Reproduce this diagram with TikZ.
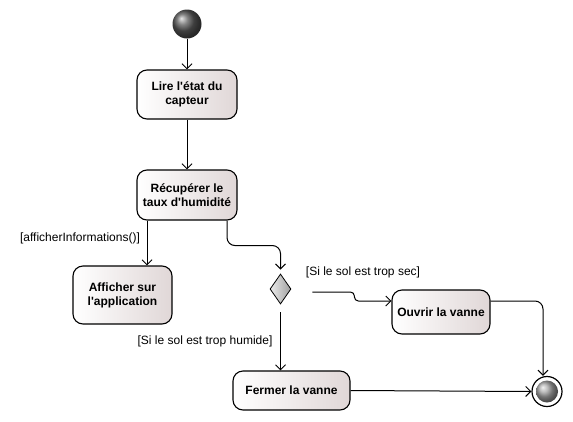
\documentclass[tikz,border=0pt]{standalone}
\usepackage{fontspec}
\setmainfont{Liberation Sans}
\usetikzlibrary{shapes.geometric,arrows.meta}
\tikzset{
  action/.style={draw,line width=1.1pt,rounded corners=10pt,inner sep=2pt,align=center,
    font=\fontsize{12}{14}\selectfont\bfseries,left color=white,right color=boxgray},
  flow/.style={line width=1pt,-{Straight Barb[length=5pt,width=10pt]}},
  guard/.style={font=\fontsize{12}{14}\selectfont,inner sep=0pt}
}
\definecolor{boxgray}{HTML}{E0D7D7}
\begin{document}
\begin{tikzpicture}[x=1pt,y=-1pt]
 \useasboundingbox (0,0) rectangle (573,421);
 % noeuds
 \node[circle,minimum size=29pt,inner sep=0pt,ball color=black!65] (debut) at (187,24) {};
 \node[action,minimum width=100pt,minimum height=49pt] (lire) at (187,94.5) {Lire l\textquotesingle état du\\capteur};
 \node[action,minimum width=100pt,minimum height=50pt] (recup) at (187,195) {Récupérer le\\taux d\textquotesingle humidité};
 \node[action,minimum width=99pt,minimum height=58pt] (afficher) at (122.5,295) {Afficher sur\\l\textquotesingle application};
 \node[diamond,draw,line width=0.8pt,inner sep=0pt,minimum width=21pt,minimum height=30pt,
   left color=gray!15,right color=gray!75] (choix) at (280.5,289) {};
 \node[action,minimum width=98pt,minimum height=44pt] (ouvrir) at (441,312) {Ouvrir la vanne};
 \node[action,minimum width=117pt,minimum height=39pt] (fermer) at (291.5,390.5) {Fermer la vanne};
 \node[circle,draw,line width=1.2pt,fill=white,minimum size=30pt,inner sep=0pt] (fin) at (547,391.5) {};
 \node[circle,minimum size=22pt,inner sep=0pt,ball color=gray!70] at (fin) {};
 % gardes
 \node[guard] (gaff) at (80,238) {[afficherInformations()]};
 \node[guard] (gsec) at (363,272) {[Si le sol est trop sec]};
 \node[guard] (ghum) at (205,341) {[Si le sol est trop humide]};
 % transitions
 \draw[flow] (debut) -- (lire);
 \draw[flow] (lire) -- (recup);
 \draw[flow] ([xshift=-40pt]recup.south) -- ([xshift=-40pt]recup.south |- afficher.north);
 \draw[flow,rounded corners=8pt,shorten >=4pt] ([xshift=40pt]recup.south) -- ++(0,25) -| (choix.north);
 \coordinate (sortie) at ([xshift=21pt,yshift=-3pt]choix.east);
 \draw[flow,rounded corners=4pt] (sortie) -- ++(42,0) |- ([yshift=11pt]ouvrir.west);
 \draw[flow] ([yshift=-8pt]choix.south) -- (fermer.north -| choix);
 \draw[flow,rounded corners=8pt] ([yshift=11pt]ouvrir.east) -| ([xshift=-4pt]fin.north);
 \draw[flow] (fermer.east) -- (fin.west);
\end{tikzpicture}
\end{document}
